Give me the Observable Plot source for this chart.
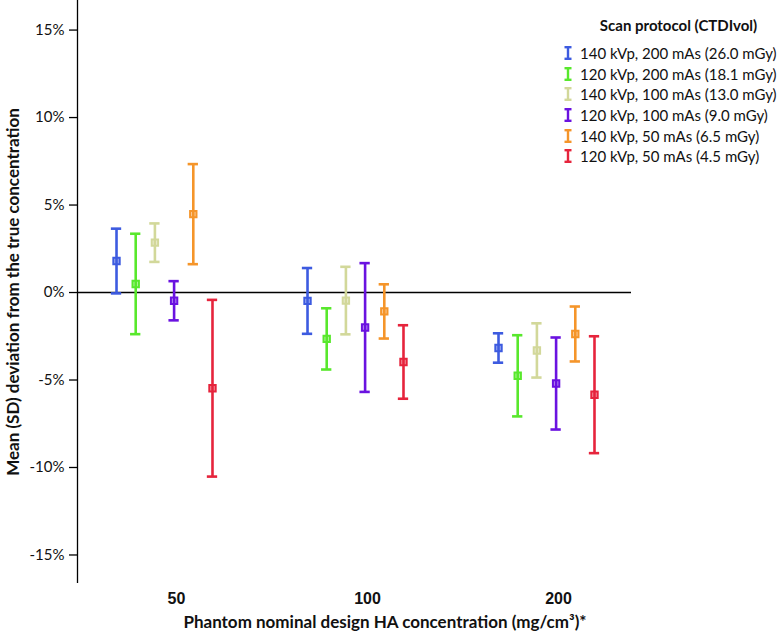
<!DOCTYPE html>
<html>
<head>
<meta charset="utf-8">
<script src="https://cdn.jsdelivr.net/npm/d3@7"></script>
<script src="https://cdn.jsdelivr.net/npm/@observablehq/plot@0.6"></script>
<style>
  html, body { margin: 0; padding: 0; background: #fff; }
  #wrap { position: relative; width: 780px; height: 635px; overflow: hidden; font-family: Lato, "Open Sans", sans-serif; }
  #chart { position: absolute; left: 0; top: 0; }
  #ytitle { position: absolute; left: 12px; top: 292px; transform: translate(-50%, -50%) rotate(-90deg); white-space: nowrap; font-weight: bold; font-size: 17px; color: #111; }
  #xtitle { position: absolute; left: 385px; top: 622px; transform: translate(-50%, -50%); white-space: nowrap; font-weight: bold; font-size: 17px; color: #111; line-height: 20px; }
  #legend { position: absolute; left: 563px; top: 14px; width: 217px; color: #111; }
  #legend .lt { text-align: center; font-weight: bold; font-size: 15px; margin-left: 14px; height: 29px; line-height: 22px; }
  #legend .it { display: flex; align-items: center; height: 20.6px; font-size: 15px; white-space: nowrap; }
  #legend .it svg { margin-right: 7px; flex: none; }
</style>
</head>
<body>
<div id="wrap">
  <div id="chart"></div>
  <div id="ytitle">Mean (SD) deviation from the true concentration</div>
  <div id="xtitle">Phantom nominal design HA concentration (mg/cm³)*</div>
  <div id="legend"></div>
</div>
<script>
// ---- data ----
const groups = ["50", "100", "200"];
const protocols = [
  "140 kVp, 200 mAs (26.0 mGy)",
  "120 kVp, 200 mAs (18.1 mGy)",
  "140 kVp, 100 mAs (13.0 mGy)",
  "120 kVp, 100 mAs (9.0 mGy)",
  "140 kVp, 50 mAs (6.5 mGy)",
  "120 kVp, 50 mAs (4.5 mGy)"
];
const colors = ["#3d5be0", "#58e82c", "#d2d89a", "#6a12e0", "#f5952a", "#e6243c"];
const mean50  = [1.8, 0.49, 2.85, -0.47, 4.48, -5.47];
const sd50    = [1.85, 2.87, 1.1, 1.12, 2.86, 5.05];
const mean100 = [-0.48, -2.65, -0.46, -2.0, -1.08, -3.97];
const sd100   = [1.88, 1.75, 1.93, 3.68, 1.55, 2.1];
const mean200 = [-3.17, -4.76, -3.31, -5.2, -2.37, -5.84];
const sd200   = [0.84, 2.32, 1.55, 2.63, 1.57, 3.34];
const yTicks = [-15, -10, -5, 0, 5, 10, 15];

// ---- build table ----
const means = [mean50, mean100, mean200];
const sds = [sd50, sd100, sd200];
const spread = 0.1005;   // within-group spacing in group units
const capW = 0.027;      // half cap width in group units
const rows = groups.flatMap((g, gi) => protocols.map((p, j) => ({
  group: g, protocol: p,
  x: gi + (j - 2.5) * spread,
  mean: means[gi][j], sd: sds[gi][j]
})));
const xDomain = [-0.4555, 2.445];

const plot = Plot.plot({
  width: 780,
  height: 635,
  marginLeft: 77,
  marginRight: 149,
  marginTop: 0,
  marginBottom: 52,
  style: { fontFamily: "Lato, 'Open Sans', sans-serif", fontSize: "15px", color: "#111", background: "transparent" },
  x: { domain: xDomain, axis: null },
  y: { domain: [-16.63, 16.69], axis: null },
  color: { domain: protocols, range: colors },
  marks: [
    Plot.ruleY([0], { stroke: "#000", strokeWidth: 1.3 }),
    Plot.ruleX([xDomain[0]], { stroke: "#000", strokeWidth: 1.3 }),
    Plot.axisY({ ticks: yTicks, tickFormat: d => d + "%", tickSize: 8, tickPadding: 5, label: null, stroke: "#000", strokeWidth: 1.3, fill: "#111", fontSize: 15 }),
    Plot.axisX({ ticks: [0, 1, 2], tickFormat: i => groups[i], tickSize: 0, tickPadding: 9, label: null, fontWeight: "bold", fontFamily: "'Liberation Sans', Arial, sans-serif", fontSize: 16, dx: 12, fill: "#111" }),
    Plot.ruleX(rows, { x: "x", y1: d => d.mean - d.sd, y2: d => d.mean + d.sd, stroke: "protocol", strokeWidth: 2.6 }),
    Plot.ruleY(rows, { y: d => d.mean + d.sd, x1: d => d.x - capW, x2: d => d.x + capW, stroke: "protocol", strokeWidth: 2.6 }),
    Plot.ruleY(rows, { y: d => d.mean - d.sd, x1: d => d.x - capW, x2: d => d.x + capW, stroke: "protocol", strokeWidth: 2.6 }),
    Plot.dot(rows, { x: "x", y: "mean", symbol: "square", r: 3.6, stroke: "protocol", fill: "protocol", fillOpacity: 0.45, strokeWidth: 2 })
  ]
});
document.getElementById("chart").appendChild(plot);

// ---- legend ----
const leg = document.getElementById("legend");
let html = '<div class="lt">Scan protocol (CTDIvol)</div>';
protocols.forEach((p, i) => {
  const c = colors[i];
  html += `<div class="it"><svg width="10" height="14" viewBox="0 0 10 14">
    <line x1="5" y1="1" x2="5" y2="13" stroke="${c}" stroke-width="2.4"/>
    <line x1="1.5" y1="1.2" x2="8.5" y2="1.2" stroke="${c}" stroke-width="2.4"/>
    <line x1="1.5" y1="12.8" x2="8.5" y2="12.8" stroke="${c}" stroke-width="2.4"/>
  </svg><span>${p}</span></div>`;
});
leg.innerHTML = html;
</script>
</body>
</html>
